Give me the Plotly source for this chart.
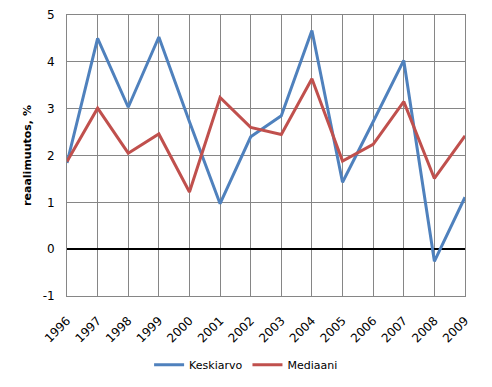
import plotly.graph_objects as go

years = [str(y) for y in range(1996, 2010)]
keskiarvo = [1.84, 4.5, 3.03, 4.53, 2.72, 0.97, 2.4, 2.85, 4.67, 1.43, 2.72, 4.03, -0.26, 1.11]
mediaani = [1.87, 3.01, 2.05, 2.46, 1.22, 3.24, 2.6, 2.45, 3.64, 1.88, 2.24, 3.15, 1.51, 2.42]
yticks = [-1, 0, 1, 2, 3, 4, 5]
yticklabels = ["-1", "0", "1", "2", "3", "4", "5"]

fig = go.Figure()
fig.add_trace(go.Scatter(x=years, y=keskiarvo, mode="lines", name="Keskiarvo",
                         line=dict(color="#4F81BD", width=3)))
fig.add_trace(go.Scatter(x=years, y=mediaani, mode="lines", name="Mediaani",
                         line=dict(color="#C0504D", width=3)))

fig.update_layout(
    width=492, height=387,
    margin=dict(l=59, r=35, t=7, b=99),
    paper_bgcolor="white", plot_bgcolor="white",
    font=dict(family="DejaVu Sans, Verdana, sans-serif", size=11, color="black"),
    showlegend=True,
    legend=dict(orientation="h", x=0.45, xanchor="center", y=-0.245, yanchor="middle",
                font=dict(size=11), itemwidth=30),
    xaxis=dict(type="category", range=[0, 13], showgrid=True, gridcolor="#868686", gridwidth=1,
               tickangle=-45, showline=True, linecolor="#868686", mirror=True,
               ticks="", tickfont=dict(size=12), automargin=False, ticklabelstandoff=12),
    yaxis=dict(range=[-1, 5], tickvals=yticks, ticktext=yticklabels,
               showgrid=True, gridcolor="#868686", gridwidth=1,
               zeroline=True, zerolinecolor="black", zerolinewidth=2,
               showline=True, linecolor="#868686", mirror=True, ticks="",
               automargin=False, ticklabelstandoff=9,
               title=dict(text="<b>reaalimuutos, %</b>", font=dict(size=11), standoff=8),
               tickfont=dict(size=12)),
)

fig.write_html("out.html")
